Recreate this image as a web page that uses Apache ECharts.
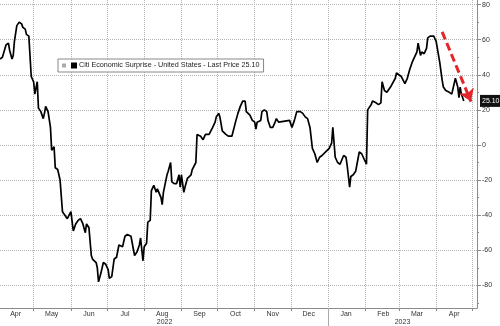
<!DOCTYPE html>
<html><head><meta charset="utf-8">
<script src="https://cdn.jsdelivr.net/npm/echarts@6/dist/echarts.min.js"></script>
<style>html,body{margin:0;padding:0;background:#fff}#c{width:500px;height:326px}</style>
</head><body><div id="c"></div>
<script>
const axisStart = '2022-04-03';
const axisEnd = '2023-05-05';
const seriesName = 'Citi Economic Surprise - United States - Last Price 25.10';
const lastPriceLabel = '25.10';
const lastPrice = 25.1;
const monthNames = ['Jan','Feb','Mar','Apr','May','Jun','Jul','Aug','Sep','Oct','Nov','Dec'];
const yTicks = [-80,-60,-40,-20,0,20,40,60,80];
const yMinorTicks = [-90,-70,-50,-30,-10,10,30,50,70];
const yMin = -92.9, yMax = 82.6;
const arrowFrom = ['2023-04-06', 64.4];
const arrowTo = ['2023-04-30', 24.7];

const dates = [
'2022-04-03','2022-04-05','2022-04-06','2022-04-08','2022-04-10','2022-04-11','2022-04-13','2022-04-14','2022-04-15','2022-04-17',
'2022-04-19','2022-04-21','2022-04-22','2022-04-24','2022-04-25','2022-04-27','2022-04-29','2022-04-30','2022-05-01','2022-05-02',
'2022-05-04','2022-05-05','2022-05-07','2022-05-09','2022-05-10','2022-05-11','2022-05-13','2022-05-15','2022-05-16','2022-05-18',
'2022-05-19','2022-05-21','2022-05-23','2022-05-25','2022-05-27','2022-05-29','2022-06-01','2022-06-02','2022-06-03','2022-06-05',
'2022-06-07','2022-06-09','2022-06-11','2022-06-13','2022-06-14','2022-06-16','2022-06-18','2022-06-19','2022-06-22','2022-06-23',
'2022-06-24','2022-06-26','2022-06-28','2022-06-30','2022-07-02','2022-07-03','2022-07-05','2022-07-06','2022-07-07','2022-07-09',
'2022-07-11','2022-07-12','2022-07-14','2022-07-16','2022-07-17','2022-07-18','2022-07-21','2022-07-22','2022-07-24','2022-07-26',
'2022-07-28','2022-07-29','2022-07-31','2022-08-01','2022-08-03','2022-08-04','2022-08-06','2022-08-07','2022-08-09','2022-08-11',
'2022-08-12','2022-08-15','2022-08-16','2022-08-17','2022-08-20','2022-08-21','2022-08-23','2022-08-24','2022-08-26','2022-08-28',
'2022-08-30','2022-08-31','2022-09-01','2022-09-03','2022-09-04','2022-09-06','2022-09-09','2022-09-10','2022-09-13','2022-09-14',
'2022-09-17','2022-09-19','2022-09-21','2022-09-24','2022-09-27','2022-09-29','2022-09-30','2022-10-02','2022-10-03','2022-10-05',
'2022-10-08','2022-10-10','2022-10-13','2022-10-14','2022-10-16','2022-10-18','2022-10-20','2022-10-22','2022-10-24','2022-10-25',
'2022-10-28','2022-10-30','2022-11-01','2022-11-02','2022-11-03','2022-11-06','2022-11-07','2022-11-09','2022-11-11','2022-11-12',
'2022-11-14','2022-11-16','2022-11-18','2022-11-19','2022-11-21','2022-11-22','2022-11-30','2022-12-02','2022-12-04','2022-12-06',
'2022-12-09','2022-12-11','2022-12-13','2022-12-15','2022-12-17','2022-12-19','2022-12-21','2022-12-23','2022-12-25','2022-12-27',
'2022-12-30','2023-01-02','2023-01-04','2023-01-05','2023-01-07','2023-01-09','2023-01-11','2023-01-14','2023-01-16','2023-01-17',
'2023-01-19','2023-01-20','2023-01-22','2023-01-24','2023-01-25','2023-01-27','2023-01-29','2023-01-31','2023-02-02','2023-02-03',
'2023-02-06','2023-02-07','2023-02-10','2023-02-12','2023-02-14','2023-02-15','2023-02-17','2023-02-19','2023-02-22','2023-02-23',
'2023-02-26','2023-02-27','2023-02-28','2023-03-03','2023-03-04','2023-03-06','2023-03-08','2023-03-10','2023-03-12','2023-03-14',
'2023-03-16','2023-03-17','2023-03-19','2023-03-20','2023-03-22','2023-03-23','2023-03-24','2023-03-25','2023-03-27','2023-03-28',
'2023-03-30','2023-04-01','2023-04-02','2023-04-04','2023-04-06','2023-04-07','2023-04-09','2023-04-12','2023-04-14','2023-04-15',
'2023-04-17','2023-04-18','2023-04-19','2023-04-20','2023-04-21','2023-04-22','2023-04-24'
];
const values = [
49,50,51,57,58,54,49,51,59,68,
70,69,67,66,63,62,39,40,36,29,
36,21,19,15,18,22,19,10,-3,-1,
-13,-14,-20,-38,-40,-42,-38,-39,-49,-45,
-43,-42,-45,-50,-45,-47,-63,-65,-67,-70,
-78,-73,-67,-68,-71,-76,-75,-70,-65,-64,
-57,-56,-58,-52,-53,-51,-52,-53,-63,-61,
-57,-53,-66,-58,-56,-44,-43,-26,-23,-27,
-25,-30,-34,-27,-17,-15,-10,-21,-22,-22,
-17,-24,-17,-27,-24,-19,-17,-14,-10,6,
5,3,6,6,10,13,16,18,16,8,
6,5,5,6,13,18,22,25,25,19,
17,14,13,9,13,14,19,20,19,14,
10,10,13,15,13,14,14,10,14,19,
19,18,16,15,10,-2,-5,-10,-7,-6,
-4,-2,1,10,-7,-10,-11,-6,-7,-12,
-24,-18,-17,-15,-15,-4,-5,-8,-11,20,
23,25,24,23,24,36,31,30,33,34,
38,41,40,39,39,35,38,43,47,50,
53,58,51,53,52,51,55,61,62,61,
62,59,55,47,37,33,31,30,29,30,
38,37,33,27,33,29,25.1
];

function ymd(t){ const d=new Date(t); const p=n=>String(n).padStart(2,'0'); return d.getUTCFullYear()+'-'+p(d.getUTCMonth()+1)+'-'+p(d.getUTCDate()); }
function parse(s){ const a=s.split('-').map(Number); return Date.UTC(a[0],a[1]-1,a[2]); }
const cats=[]; for(let t=parse(axisStart); t<=parse(axisEnd); t+=86400000) cats.push(ymd(t));
const lineData = cats.map(()=>null);
dates.forEach((d,i)=>{ const k=cats.indexOf(d); if(k>=0) lineData[k]=values[i]; });
const jan1 = cats.indexOf('2023-01-01');
const mid22 = Math.round(jan1/2);
const mid23 = Math.round((jan1 + cats.length - 1)/2);

const FF = 'Liberation Sans, Arial, sans-serif';
const grid = '#b4b4b4';
const axisC = '#8a8a8a';

const chart = echarts.init(document.getElementById('c'), null, {renderer:'canvas'});
chart.setOption({
  animation:false,
  backgroundColor:'#fff',
  grid:{left:0,right:23,top:0,bottom:18,containLabel:false},
  legend:{
    left:58, top:59, backgroundColor:'#fff', borderColor:'#888', borderWidth:1,
    padding:[3,4,3,4], itemWidth:4, itemHeight:4, itemGap:0, selectedMode:false,
    data:[{name:seriesName, icon:'rect', itemStyle:{color:'#aaa'}}],
    formatter: n => '{b|} ' + n,
    textStyle:{fontSize:7.2, color:'#222', fontFamily:FF,
      rich:{b:{width:6,height:6,backgroundColor:'#000'}}}
  },
  xAxis:[{
    type:'category', data:cats, boundaryGap:false,
    axisLine:{show:true, onZero:false, lineStyle:{color:axisC}},
    axisTick:{show:true, interval:(i,v)=>v.slice(8)==='01', length:3, lineStyle:{color:axisC}},
    axisLabel:{interval:(i,v)=>v.slice(8)==='16', formatter:v=>monthNames[+v.slice(5,7)-1], margin:3, fontSize:7, color:'#333', fontFamily:FF},
    splitLine:{show:true, interval:(i,v)=>v.slice(8)==='01', lineStyle:{color:grid, type:'dotted', width:1}}
  },{
    type:'category', data:cats, boundaryGap:false, position:'bottom',
    axisLine:{show:false, onZero:false},
    axisTick:{show:true, interval:(i,v)=>i===jan1, length:18, lineStyle:{color:'#aaa'}},
    axisLabel:{interval:(i,v)=>i===mid22||i===mid23, formatter:v=>v.slice(0,4), margin:11, fontSize:7, color:'#333', fontFamily:FF},
    splitLine:{show:false}
  }],
  yAxis:[{
    type:'value', position:'right', min:yMin, max:yMax,
    axisLine:{show:true, lineStyle:{color:axisC}},
    axisTick:{show:true, customValues:yTicks, length:4, lineStyle:{color:axisC}},
    axisLabel:{customValues:yTicks, margin:5, fontSize:7, color:'#333', fontFamily:FF},
    splitLine:{show:true, lineStyle:{color:grid, type:'dotted', width:1}}
  },{
    type:'value', position:'right', min:yMin, max:yMax,
    axisLine:{show:false},
    axisTick:{show:true, customValues:yMinorTicks, length:2, lineStyle:{color:axisC}},
    axisLabel:{show:false}, splitLine:{show:false}
  }],
  series:[{
    type:'line', name:seriesName, data:lineData, connectNulls:true, showSymbol:false, symbol:'none',
    lineStyle:{color:'#000', width:1.7}, itemStyle:{color:'#000'},
    markLine:{
      silent:true, animation:false, symbol:['none','arrow'], symbolSize:12,
      data:[
        {yAxis:lastPrice, symbol:'none', lineStyle:{color:'rgba(0,0,0,0)', width:0},
          label:{show:true, position:'end', distance:3, formatter:lastPriceLabel, backgroundColor:'#111', color:'#fff', padding:[3,2,2,2], fontSize:7, fontFamily:FF}},
        [{coord:[cats.indexOf(arrowFrom[0]), arrowFrom[1]], lineStyle:{color:'#e3262b', width:3, type:[8,4]}, label:{show:false}},
         {coord:[cats.indexOf(arrowTo[0]), arrowTo[1]]}]
      ]
    }
  }]
});
</script></body></html>
